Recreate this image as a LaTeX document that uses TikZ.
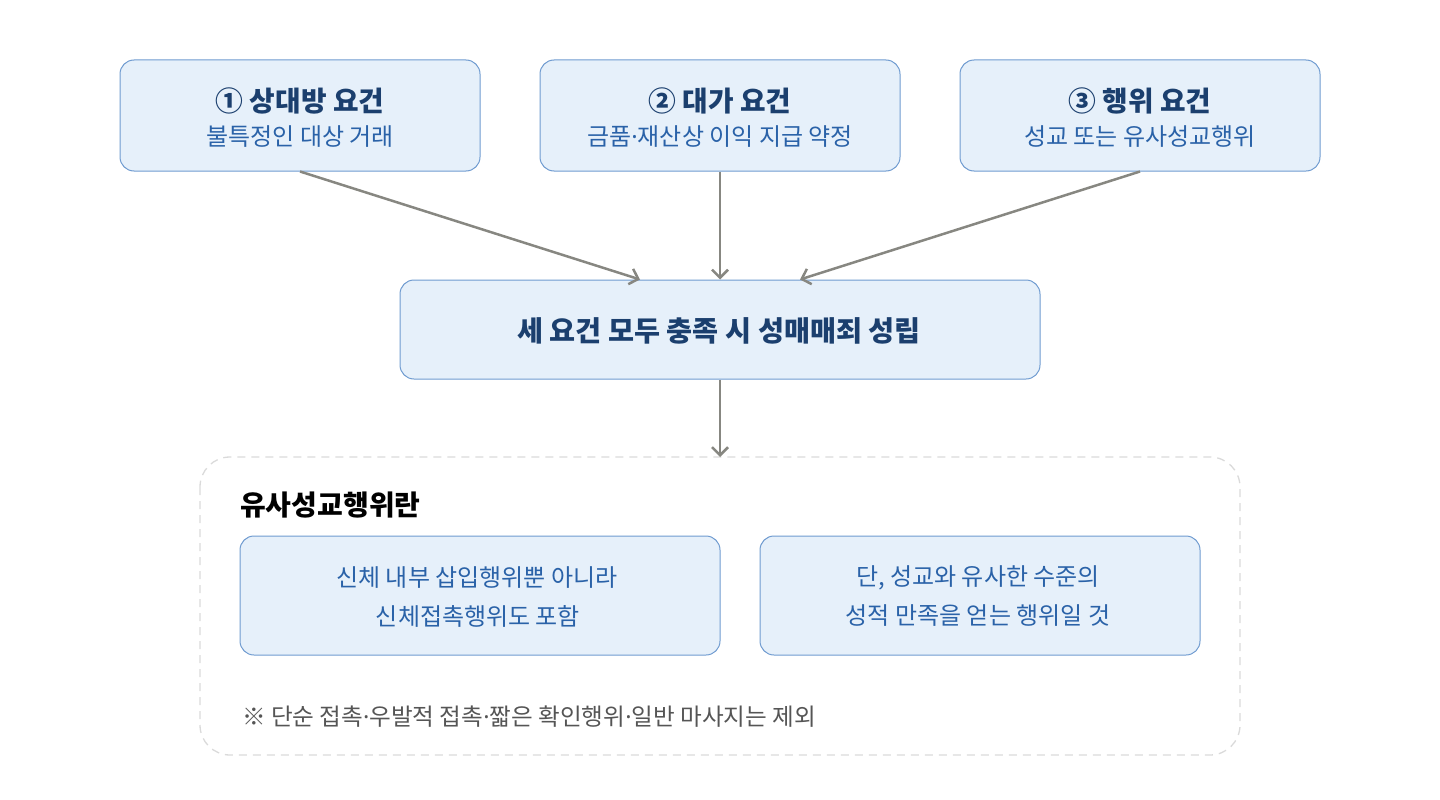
\documentclass[tikz,border=0pt]{standalone}
\usepackage{fontspec}
\setmainfont{Noto Sans CJK KR}
\newfontfamily\dotfont{Noto Sans}
\newcommand{\mdot}{{\dotfont ·}}
\usetikzlibrary{arrows.meta}
\definecolor{boxfill}{HTML}{E6F0FA}
\definecolor{boxline}{HTML}{6F9BD0}
\definecolor{titlec}{HTML}{1B3F6E}
\definecolor{subc}{HTML}{2A62A8}
\definecolor{arrc}{HTML}{878781}
\definecolor{dashc}{HTML}{DADADA}
\definecolor{notec}{HTML}{555555}
\tikzset{
  reqbox/.style={draw=boxline, fill=boxfill, line width=1pt, rounded corners=14pt, inner sep=0pt},
  titletext/.style={font=\fontsize{27.8}{30}\selectfont\bfseries, text=titlec, inner sep=0pt},
  subtext/.style={font=\fontsize{24}{28}\selectfont, text=subc, inner sep=0pt},
  conn/.style={draw=arrc, line width=2.5pt, -{Straight Barb[length=8pt,width=16pt,line width=2.5pt]}},
}
\begin{document}
\begin{tikzpicture}[x=1pt,y=-1pt]
\useasboundingbox (0,0) rectangle (1440,800);
% top boxes
\node[reqbox, minimum width=360pt, minimum height=111pt] (r1) at (300,115.5) {};
\node[reqbox, minimum width=360pt, minimum height=111pt] (r2) at (720,115.5) {};
\node[reqbox, minimum width=360pt, minimum height=111pt] (r3) at (1140,115.5) {};
\node[titletext] (t1) at (300,101) {① 상대방 요건};
\node[subtext] (s1) at (300,137) {불특정인 대상 거래};
\node[titletext] (t2) at (720,101) {② 대가 요건};
\node[subtext] (s2) at (720,137) {금품\mdot 재산상 이익 지급 약정};
\node[titletext] (t3) at (1140,101) {③ 행위 요건};
\node[subtext] (s3) at (1140,137) {성교 또는 유사성교행위};
% middle box
\node[reqbox, minimum width=640pt, minimum height=99pt] (mid) at (720,329.5) {};
\node[titletext, font=\fontsize{28.3}{30}\selectfont\bfseries] (midt) at (719,331) {세 요건 모두 충족 시 성매매죄 성립};
% container
\draw[dashc, line width=1.3pt, dash pattern=on 8pt off 6pt, rounded corners=30pt] (200,457) rectangle (1240,755);
\coordinate (cont) at (720,457);
\node[anchor=west, font=\fontsize{28}{30}\selectfont\bfseries, text=black, inner sep=0pt] (head) at (240,505) {유사성교행위란};
\node[reqbox, minimum width=480pt, minimum height=119pt] (d1) at (480,595.5) {};
\node[reqbox, minimum width=440pt, minimum height=119pt] (d2) at (980,595.5) {};
\node[subtext] (d1a) at (477,578) {신체 내부 삽입행위뿐 아니라};
\node[subtext] (d1b) at (478,616) {신체접촉행위도 포함};
\node[subtext] (d2a) at (978,578) {단, 성교와 유사한 수준의};
\node[subtext] (d2b) at (978,616) {성적 만족을 얻는 행위일 것};
\node[anchor=west, font=\fontsize{23.6}{28}\selectfont, text=notec, inner sep=0pt] (note) at (242,717) {※ 단순 접촉\mdot 우발적 접촉\mdot 짧은 확인행위\mdot 일반 마사지는 제외};
% connectors
\draw[conn] (300,171.5) -- (640,279.5);
\draw[conn] (r2.south) -- (mid.north);
\draw[conn] (1140,171.5) -- (800,279.5);
\draw[conn] (mid.south) -- (cont);
\end{tikzpicture}
\end{document}
